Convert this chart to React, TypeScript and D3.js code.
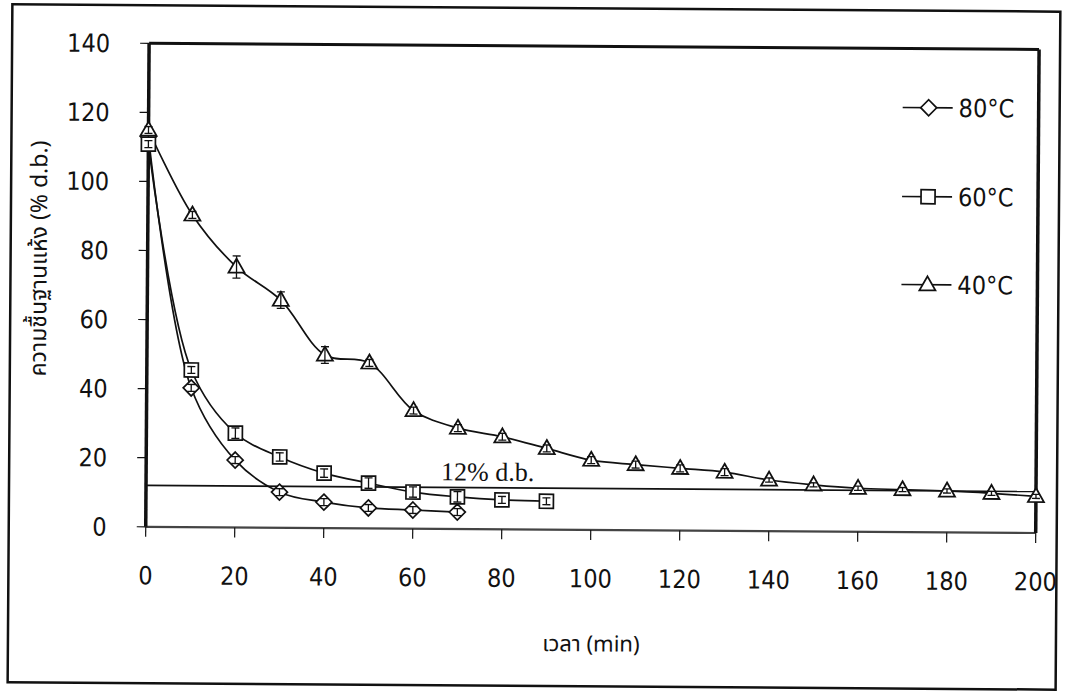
import React from "react";
import * as d3 from "d3";

// drying curves, moisture content (% d.b.) vs time (min)
const time80 = [0, 10, 20, 30, 40, 50, 60, 70];
const moist80 = [113, 40.3, 19.5, 10.3, 7.5, 5.9, 5.4, 4.9];
const err80 = [1, 1, 1, 1, 1, 1, 1, 1];

const time60 = [0, 10, 20, 30, 40, 50, 60, 70, 80, 90];
const moist60 = [110.8, 45.5, 27.3, 20.5, 15.9, 13.1, 10.6, 9.3, 8.5, 8.2];
const err60 = [1, 1, 1.5, 1.2, 1.2, 1.5, 1.5, 1.5, 1, 1];

const time40 = [0, 10, 20, 30, 40, 50, 60, 70, 80, 90, 100, 110, 120, 130, 140, 150, 160, 170, 180, 190, 200];
const moist40 = [114.9, 90.4, 75.4, 65.9, 50.1, 47.9, 34.2, 29.2, 26.8, 23.5, 20.2, 19, 18, 17, 14.8, 13.5, 12.6, 12.3, 12, 11.4, 10.6];
const err40 = [1, 1, 3.2, 2.4, 2.4, 1, 1, 1, 1, 1, 1, 1, 1, 1, 0.6, 0.6, 0.6, 0.6, 0.6, 0.6, 0.6];

const seriesNames = ["80°C", "60°C", "40°C"];
const seriesMarkers = ["diamond", "square", "triangle"];

const xTicks = [0, 20, 40, 60, 80, 100, 120, 140, 160, 180, 200];
const yTicks = [0, 20, 40, 60, 80, 100, 120, 140];
const targetMoisture = 12;
const targetLabel = "12% d.b.";

const xTitle = "เวลา (min)";
const yTitle = "ความชื้นฐานแห้ง (% d.b.)";

const W = 1068;
const H = 693;
const left = 147, right = 1037, top = 46, bottom = 529.5;
const tickFont = "'DejaVu Sans Condensed', 'Liberation Sans Narrow', sans-serif";
const thaiFont = "'Noto Sans Thai', 'Tahoma', 'Noto Sans', 'DejaVu Sans', sans-serif";

const x = d3.scaleLinear().domain([0, 200]).range([left, right]);
const y = d3.scaleLinear().domain([0, 140]).range([bottom, top]);

const Marker = ({ kind, cx, cy }: { kind: string; cx: number; cy: number }) => {
  if (kind === "diamond") {
    const r = 8;
    return <path d={`M${cx},${cy - r}L${cx + r},${cy}L${cx},${cy + r}L${cx - r},${cy}Z`} fill="#fff" stroke="#111" strokeWidth={1.7} />;
  }
  if (kind === "square") {
    const r = 7;
    return <rect x={cx - r} y={cy - r} width={2 * r} height={2 * r} fill="#fff" stroke="#111" strokeWidth={1.7} />;
  }
  const h = 14, w = 16;
  return <path d={`M${cx},${cy - h * 0.6}L${cx + w / 2},${cy + h * 0.4}L${cx - w / 2},${cy + h * 0.4}Z`} fill="#fff" stroke="#111" strokeWidth={1.8} />;
};

const line = d3.line<[number, number]>()
  .x((d) => x(d[0]))
  .y((d) => y(d[1]))
  .curve(d3.curveCatmullRom.alpha(0.5));

const allSeries = [
  { t: time80, m: moist80, e: err80 },
  { t: time60, m: moist60, e: err60 },
  { t: time40, m: moist40, e: err40 },
];

export default function App() {
  const legendY = [105, 194, 282];
  return (
    <svg width={W} height={H} style={{ position: "absolute", left: 0, top: 0, background: "#fff" }}>
      <rect width={W} height={H} fill="#fff" />
      <g transform="rotate(0.4 534 346)">
        {/* outer frame */}
        <rect x={10} y={8} width={1048} height={678} fill="none" stroke="#111" strokeWidth={2.5} />

        {/* plot frame */}
        <line x1={left} x2={right} y1={bottom} y2={bottom} stroke="#444" strokeWidth={2.2} />
        <line x1={left} x2={right} y1={top} y2={top} stroke="#111" strokeWidth={3} />
        <line x1={left} x2={left} y1={top} y2={bottom} stroke="#111" strokeWidth={3.5} />
        <line x1={right} x2={right} y1={top} y2={bottom} stroke="#111" strokeWidth={3.5} />

        {/* y ticks */}
        {yTicks.map((v) => (
          <g key={"y" + v}>
            <line x1={left - 9} x2={left} y1={y(v)} y2={y(v)} stroke="#111" strokeWidth={1.2} />
            <text x={108} y={y(v)} dy="0.36em" textAnchor="end" fontFamily={tickFont} fontSize={25} fill="#111">{v}</text>
          </g>
        ))}

        {/* x ticks */}
        {xTicks.map((v) => (
          <g key={"x" + v}>
            <line x1={x(v)} x2={x(v)} y1={bottom} y2={bottom + 10} stroke="#111" strokeWidth={1.2} />
            <text x={x(v)} y={587} textAnchor="middle" fontFamily={tickFont} fontSize={25} fill="#111">{v}</text>
          </g>
        ))}

        {/* 12% d.b. reference */}
        <line x1={left} x2={right} y1={y(targetMoisture)} y2={y(targetMoisture)} stroke="#111" strokeWidth={1.6} />
        <text x={442} y={481} fontFamily="'Liberation Serif', 'Times New Roman', serif" fontSize={26} fill="#111">{targetLabel}</text>

        {/* curves */}
        {allSeries.map((s, i) => (
          <path key={"l" + i} d={line(s.t.map((t, j) => [t, s.m[j]] as [number, number])) || ""} fill="none" stroke="#111" strokeWidth={1.7} />
        ))}
        {allSeries.map((s, i) => (
          <g key={"m" + i}>
            {s.t.map((t, j) => (
              <Marker key={j} kind={seriesMarkers[i]} cx={x(t)} cy={y(s.m[j])} />
            ))}
            {s.t.map((t, j) => {
              const cx = x(t);
              const y1 = y(s.m[j] + s.e[j]);
              const y2 = y(s.m[j] - s.e[j]);
              return (
                <g key={"e" + j} stroke="#111" strokeWidth={1.3}>
                  <line x1={cx} x2={cx} y1={y1} y2={y2} />
                  <line x1={cx - 4} x2={cx + 4} y1={y1} y2={y1} />
                  <line x1={cx - 4} x2={cx + 4} y1={y2} y2={y2} />
                </g>
              );
            })}
          </g>
        ))}

        {/* legend */}
        {seriesNames.map((name, i) => (
          <g key={"lg" + i}>
            <line x1={901} x2={951} y1={legendY[i]} y2={legendY[i]} stroke="#111" strokeWidth={1.6} />
            <Marker kind={seriesMarkers[i]} cx={927} cy={legendY[i]} />
            <text x={957} y={legendY[i]} dy="0.36em" fontFamily={tickFont} fontSize={25} fill="#111">{name}</text>
          </g>
        ))}

        {/* axis titles */}
        <text x={593} y={651} textAnchor="middle" fontFamily={thaiFont} fontSize={22} fill="#111">{xTitle}</text>
        <text transform="translate(46 262) rotate(-90)" textAnchor="middle" fontFamily={thaiFont} fontSize={23} fill="#111">{yTitle}</text>
      </g>
    </svg>
  );
}
